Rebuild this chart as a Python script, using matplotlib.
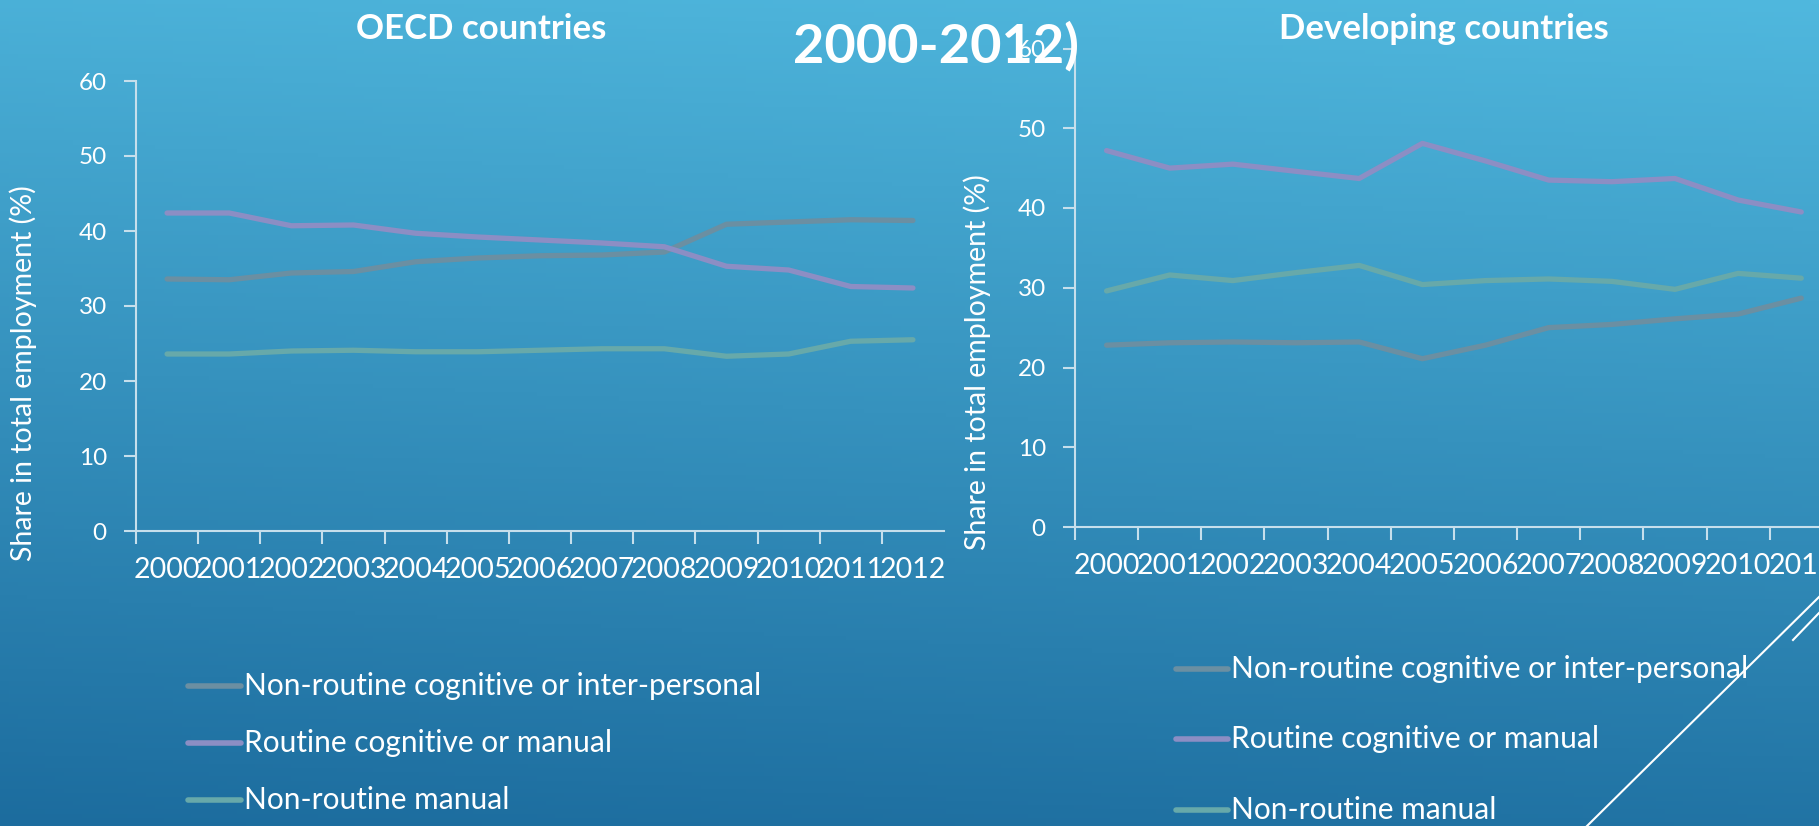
import numpy as np
import matplotlib
matplotlib.use('Agg')
import matplotlib.pyplot as plt
from matplotlib.lines import Line2D

# data
years = ["2000", "2001", "2002", "2003", "2004", "2005", "2006",
         "2007", "2008", "2009", "2010", "2011", "2012"]
series_names = ["Non-routine cognitive or inter-personal",
                "Routine cognitive or manual",
                "Non-routine manual"]

oecd_nonroutine_cog = [33.6, 33.5, 34.4, 34.6, 35.9, 36.4, 36.7, 36.8, 37.2, 40.9, 41.2, 41.5, 41.4]
oecd_routine = [42.4, 42.4, 40.7, 40.8, 39.7, 39.2, 38.8, 38.4, 37.9, 35.3, 34.8, 32.6, 32.4]
oecd_nonroutine_man = [23.6, 23.6, 24.0, 24.1, 23.9, 23.9, 24.1, 24.3, 24.3, 23.3, 23.6, 25.3, 25.5]

# developing countries: 2012 falls off the slide edge
dev_nonroutine_cog = [22.8, 23.1, 23.2, 23.1, 23.2, 21.1, 22.8, 25.0, 25.4, 26.1, 26.7, 28.7]
dev_routine = [47.2, 45.0, 45.5, 44.6, 43.7, 48.1, 45.9, 43.5, 43.3, 43.7, 41.0, 39.5]
dev_nonroutine_man = [29.6, 31.6, 30.9, 31.9, 32.8, 30.4, 30.9, 31.1, 30.8, 29.8, 31.8, 31.2]

line_colors = ["#6b8fa2", "#8c8ec4", "#67a9aa"]
axis_color = "#c6dfec"

plt.rcParams['font.family'] = ['Lato', 'DejaVu Sans']

W, H = 1819, 826
fig = plt.figure(figsize=(W / 100, H / 100), dpi=100)

# background gradient
bg = fig.add_axes([0, 0, 1, 1])
gy, gx = np.mgrid[0:1:200j, 0:1:200j]
t = np.clip(gy * 0.9 + (1 - gx) * 0.1, 0, 1)[..., None]
top = np.array([80, 184, 222]) / 255
bottom = np.array([28, 108, 158]) / 255
bg.imshow(top + (bottom - top) * t, aspect='auto', extent=[0, 1, 0, 1])
bg.set_axis_off()


def style_axes(ax):
    for side in ['top', 'right']:
        ax.spines[side].set_visible(False)
    for side in ['left', 'bottom']:
        ax.spines[side].set_color(axis_color)
        ax.spines[side].set_linewidth(1.5)
    ax.set_facecolor('none')
    ax.set_xlim(-0.5, len(years) - 0.5)
    ax.set_xticks(np.arange(len(years)) - 0.5, minor=False)
    ax.set_xticklabels([])
    ax.set_xticks(np.arange(len(years)), minor=True)
    ax.set_xticklabels(years, minor=True, fontsize=20.5, color='white')
    ax.tick_params(axis='x', which='major', length=9, width=1.5, color=axis_color)
    ax.tick_params(axis='x', which='minor', length=0, pad=19)
    ax.set_ylim(0, 60)
    ax.set_yticks(range(0, 61, 10))
    ax.tick_params(axis='y', length=9, width=1.5, color=axis_color,
                   labelsize=17.5, labelcolor='white', pad=12)


def draw(ax, values):
    for vals, color in zip(values, line_colors):
        ax.plot(np.arange(len(vals)), vals, color=color, lw=3.8,
                solid_capstyle='round', solid_joinstyle='round')


ax1 = fig.add_axes([136 / W, 1 - 531 / H, 808 / W, 450 / H])
style_axes(ax1)
draw(ax1, [oecd_nonroutine_cog, oecd_routine, oecd_nonroutine_man])

ax2 = fig.add_axes([1075 / W, 1 - 527 / H, 821 / W, 478.5 / H])
style_axes(ax2)
draw(ax2, [dev_nonroutine_cog, dev_routine, dev_nonroutine_man])

fig.text(23 / W, 1 - 373 / H, "Share in total employment (%)", rotation=90,
         color='white', fontsize=20.5, ha='center', va='center')
fig.text(977 / W, 1 - 362 / H, "Share in total employment (%)", rotation=90,
         color='white', fontsize=20.5, ha='center', va='center')

fig.text(481 / W, 1 - 29 / H, "OECD countries", color='white', fontsize=25,
         fontweight='bold', ha='center', va='center')
fig.text(1444 / W, 1 - 29 / H, "Developing countries", color='white', fontsize=25,
         fontweight='bold', ha='center', va='center')
fig.text(936 / W, 1 - 46 / H, "2000-2012)", color='white', fontsize=39,
         fontweight='bold', ha='center', va='center')

# legends
def legend(x0, x1, ys):
    for name, color, y in zip(series_names, line_colors, ys):
        fig.add_artist(Line2D([x0 / W, x1 / W], [1 - y / H, 1 - y / H], color=color,
                              lw=4, solid_capstyle='round'))
        fig.text((x1 + 3) / W, 1 - y / H, name, color='white', fontsize=21.5,
                 ha='left', va='center')


legend(188, 241, [686, 743, 800])
legend(1176, 1228, [669, 739, 810])

# decorative slide lines
fig.add_artist(Line2D([1587 / W, 1819 / W], [1 - 826 / H, 1 - 597 / H], color='white', lw=1.5))
fig.add_artist(Line2D([1793 / W, 1819 / W], [1 - 640 / H, 1 - 613 / H], color='white', lw=1.5))

fig.savefig("out.png", dpi=100)
